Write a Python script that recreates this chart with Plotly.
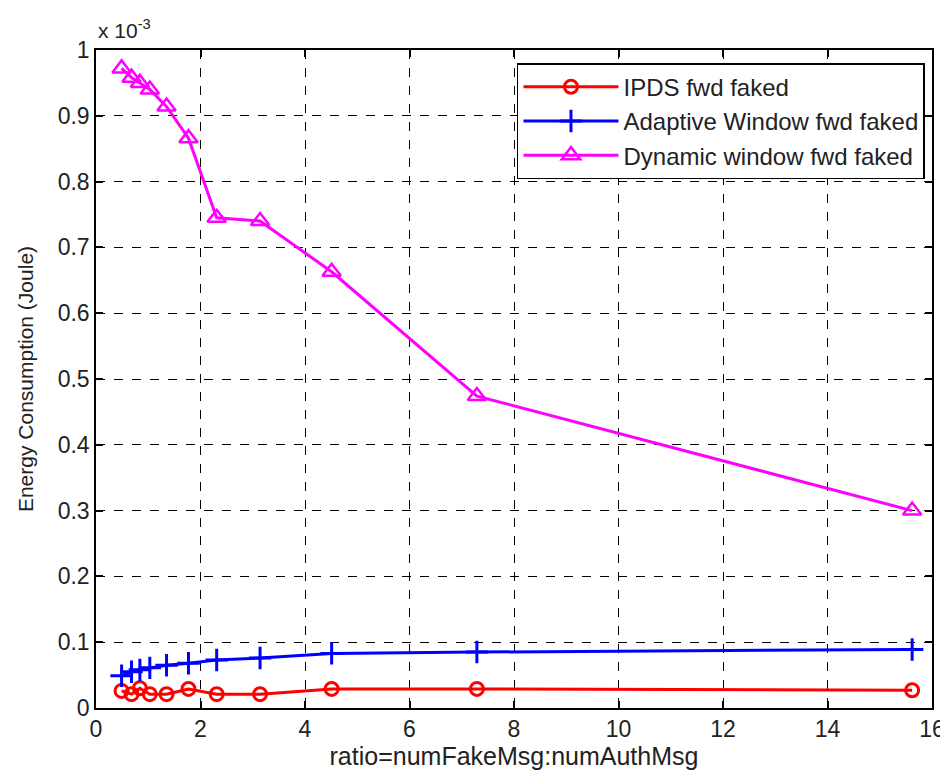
import plotly.graph_objects as go

ratio = [0.49, 0.68, 0.84, 1.03, 1.35, 1.77, 2.31, 3.14, 4.51, 7.29, 15.62]
ipds = [0.026, 0.021, 0.030, 0.021, 0.021, 0.029, 0.021, 0.021, 0.029, 0.029, 0.027]
adaptive = [0.049, 0.055, 0.058, 0.061, 0.065, 0.068, 0.073, 0.076, 0.083, 0.085, 0.089]
dynamic = [0.972, 0.958, 0.950, 0.940, 0.914, 0.866, 0.745, 0.740, 0.663, 0.474, 0.300]

x_ticks = [0, 2, 4, 6, 8, 10, 12, 14, 16]
y_ticks = [0, 0.1, 0.2, 0.3, 0.4, 0.5, 0.6, 0.7, 0.8, 0.9, 1]
y_tick_text = ["0", "0.1", "0.2", "0.3", "0.4", "0.5", "0.6", "0.7", "0.8", "0.9", "1"]

FONT = "Liberation Sans, Arial, sans-serif"
FS = 23

fig = go.Figure()
fig.add_trace(go.Scatter(
    x=ratio, y=ipds, mode="lines+markers", name="IPDS fwd faked",
    line=dict(color="#ff0000", width=3),
    marker=dict(symbol="circle-open", size=13, color="#ff0000", line=dict(width=3, color="#ff0000")),
))
fig.add_trace(go.Scatter(
    x=ratio, y=adaptive, mode="lines+markers", name="Adaptive Window fwd faked",
    line=dict(color="#0000ff", width=3),
    marker=dict(symbol="cross-thin-open", size=16, color="#0000ff", line=dict(width=3, color="#0000ff")),
))
fig.add_trace(go.Scatter(
    x=ratio, y=dynamic, mode="lines+markers", name="Dynamic window fwd faked",
    line=dict(color="#ff00ff", width=3),
    marker=dict(symbol="triangle-up-open", size=16, color="#ff00ff", line=dict(width=2.5, color="#ff00ff")),
))

axis_common = dict(
    showline=True, linecolor="black", linewidth=1.5, mirror="ticks",
    ticks="inside", ticklen=7, tickcolor="black", tickwidth=1.5,
    showgrid=True, gridcolor="black", griddash="dash", gridwidth=1.2,
    zeroline=False, automargin=False, ticklabeloverflow="allow",
    tickfont=dict(family=FONT, size=FS, color="#222222"),
)

fig.update_layout(
    width=940, height=770,
    paper_bgcolor="white", plot_bgcolor="white",
    margin=dict(l=88, r=16, t=42, b=70),
    font=dict(family=FONT, size=FS, color="#222222"),
    showlegend=True,
    legend=dict(
        x=0.9916, y=0.98, xanchor="right", yanchor="top",
        bgcolor="white", bordercolor="black", borderwidth=1.5,
        font=dict(family=FONT, size=24, color="#222222"),
        itemwidth=95, tracegroupgap=0,
    ),
    xaxis=dict(
        range=[0, 16], tickvals=x_ticks,
        title=dict(text="ratio=numFakeMsg:numAuthMsg", font=dict(family=FONT, size=25), standoff=6),
        **axis_common,
    ),
    yaxis=dict(
        range=[0, 1], tickvals=y_ticks, ticktext=y_tick_text,
        title=dict(text="Energy Consumption (Joule)", font=dict(family=FONT, size=21), standoff=18),
        **axis_common,
    ),
    annotations=[dict(
        text="x 10<sup>-3</sup>", xref="paper", yref="paper", x=0.0, y=1.0,
        xanchor="left", yanchor="bottom", showarrow=False, yshift=6,
        font=dict(family=FONT, size=21, color="#222222"),
    )],
)

fig.write_html("out.html")
